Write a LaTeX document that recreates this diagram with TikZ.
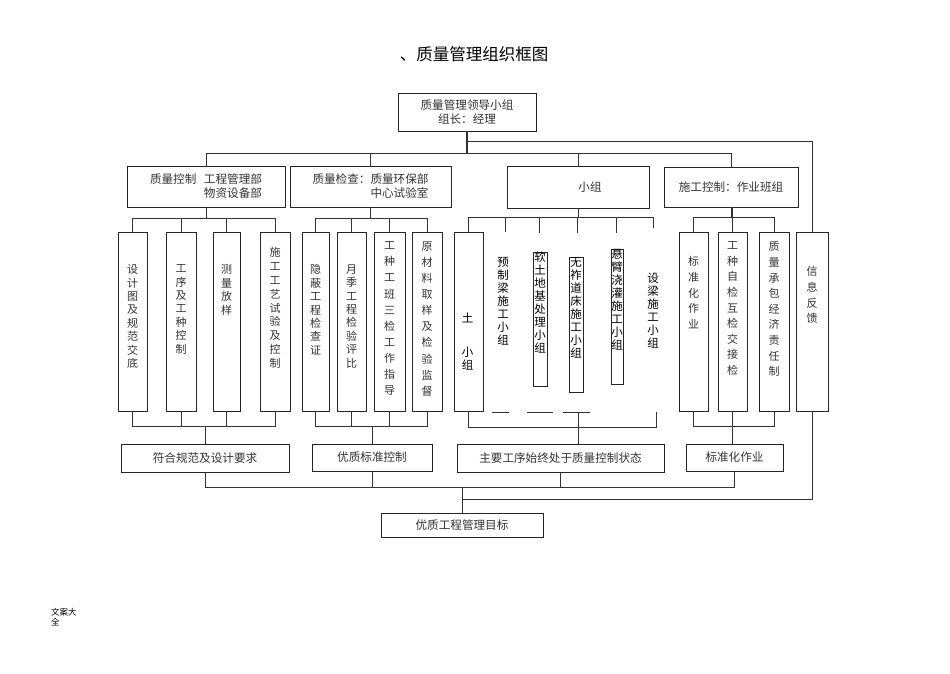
\documentclass[tikz,border=0pt]{standalone}
\usepackage{fontspec}
\newfontfamily\cjk{Noto Sans CJK SC}
\ExplSyntaxOn
\NewDocumentCommand\vtext{m}{
  \seq_clear:N \l_tmpa_seq
  \tl_map_inline:nn {#1} { \seq_put_right:Nn \l_tmpa_seq {##1} }
  \seq_use:Nn \l_tmpa_seq { \\ }
}
\ExplSyntaxOff
\begin{document}
\begin{tikzpicture}[x=1pt,y=-1pt,
  bx/.style={draw=black!85, line width=0.9pt, inner sep=0pt},
  ln/.style={draw=black!80, line width=0.8pt},
  htxt/.style={font=\cjk\fontsize{11.6}{14}\selectfont, text=black!80},
  vt/.style={font=\cjk\fontsize{11}{#1}\selectfont, align=center, inner sep=0pt, anchor=north, text=black!80},
  vt/.default=13.4,
  vs/.style={font=\cjk\fontsize{11.5}{#1}\selectfont, align=center, inner sep=0pt, anchor=north, text=black},
  vs/.default=13
]
\useasboundingbox[fill=white] (0,0) rectangle (950,673);

% title
\node[font=\cjk\fontsize{16.5}{20}\selectfont] (title) at (474,54) {、质量管理组织框图};

% top
\node[bx, htxt, align=center, minimum width=138, minimum height=38] (L) at (467,112) {质量管理领导小组\\组长：经理};

% second row
\node[bx, htxt, align=right, minimum width=158, minimum height=41] (A) at (206,186.5) {质量控制\hspace{0.65em}工程管理部\\物资设备部};
\node[bx, htxt, align=right, minimum width=161, minimum height=41] (B) at (370.5,186.5) {质量检查：质量环保部\\中心试验室};
\node[bx, minimum width=142, minimum height=42] (C) at (578,187) {};
\node[htxt] (Ct) at (590,187) {小组};
\node[bx, htxt, minimum width=134, minimum height=40] (D) at (731,187) {施工控制：作业班组};

% group A boxes
\node[bx, minimum width=29, minimum height=179] (a1) at (132.5,321.5) {};
\node[bx, minimum width=30, minimum height=179] (a2) at (181,321.5) {};
\node[bx, minimum width=27, minimum height=179] (a3) at (226.5,321.5) {};
\node[bx, minimum width=30, minimum height=179] (a4) at (275,321.5) {};
\node[vt] (a1t) at (132.5,264.5) {\vtext{设计图及规范交底}};
\node[vt] (a2t) at (181,264.5) {\vtext{工序及工种控制}};
\node[vt] (a3t) at (226.5,264.5) {\vtext{测量放样}};
\node[vt=13.8] (a4t) at (275,247.5) {\vtext{施工工艺试验及控制}};

% group B boxes
\node[bx, minimum width=27, minimum height=179] (b1) at (315.5,321.5) {};
\node[bx, minimum width=29, minimum height=179] (b2) at (351.5,321.5) {};
\node[bx, minimum width=31, minimum height=179] (b3) at (389.5,321.5) {};
\node[bx, minimum width=30, minimum height=179] (b4) at (427,321.5) {};
\node[vt] (b1t) at (315.5,264.5) {\vtext{隐蔽工程检查证}};
\node[vt] (b2t) at (351.5,264.5) {\vtext{月季工程检验评比}};
\node[vt=16.1] (b3t) at (389.5,241.5) {\vtext{工种工班三检工作指导}};
\node[vt=16.1] (b4t) at (427,241.5) {\vtext{原材料取样及检验监督}};

% group C
\node[bx, minimum width=29, minimum height=179] (c1) at (468.5,321.5) {};
\node[bx, minimum width=14, minimum height=134] (c3) at (540,319) {};
\node[bx, minimum width=14, minimum height=135] (c4) at (576,324.5) {};
\node[bx, minimum width=12, minimum height=135] (c5) at (617,316.5) {};
\node[vs=12.5] (c1t) at (467.5,312.5) {土\\[22pt]小\\组};
\node[vs] (c2t) at (503,257.5) {\vtext{预制梁施工小组}};
\node[vs] (c3t) at (540,251.5) {\vtext{软土地基处理小组}};
\node[vs] (c4t) at (576,257.5) {\vtext{无祚道床施工小组}};
\node[vs] (c5t) at (617,249.5) {\vtext{悬臂浇灌施工小组}};
\node[vs] (c6t) at (653,272.5) {\vtext{设梁施工小组}};

% group D
\node[bx, minimum width=29, minimum height=179] (d1) at (693.5,321.5) {};
\node[bx, minimum width=29, minimum height=179] (d2) at (732.5,321.5) {};
\node[bx, minimum width=30, minimum height=179] (d3) at (774,321.5) {};
\node[bx, minimum width=32, minimum height=179] (d4) at (812,321.5) {};
\node[vt=15.6] (d1t) at (693.5,256.5) {\vtext{标准化作业}};
\node[vt=15.6] (d2t) at (732.5,241.5) {\vtext{工种自检互检交接检}};
\node[vt=15.6] (d3t) at (774,241.5) {\vtext{质量承包经济责任制}};
\node[vt=15.6] (d4t) at (812,266.5) {\vtext{信息反馈}};

% result row
\node[bx, htxt, minimum width=168, minimum height=28] (R1) at (205,458) {符合规范及设计要求};
\node[bx, htxt, minimum width=120, minimum height=27] (R2) at (372,457.5) {优质标准控制};
\node[bx, htxt, minimum width=207, minimum height=28] (R3) at (560.5,458) {主要工序始终处于质量控制状态};
\node[bx, htxt, minimum width=97, minimum height=27] (R4) at (734.5,457.5) {标准化作业};

% goal
\node[bx, htxt, minimum width=162, minimum height=24] (G) at (462,525) {优质工程管理目标};

% footer
\node[font=\cjk\fontsize{8.5}{10.5}\selectfont, align=left, anchor=north west, inner sep=0pt] (ft) at (51,608) {文案大\\全};

% bus coordinates
\coordinate (t0) at (0,141);
\coordinate (t1) at (0,153);
\coordinate (bT) at (0,218);
\coordinate (bB) at (0,426);
\coordinate (bCB) at (0,427);
\coordinate (g1) at (0,487);
\coordinate (g0) at (0,499);
\coordinate (c2top) at (505,232);
\coordinate (c3top) at (539,233);
\coordinate (c4top) at (577,233);
\coordinate (c5top) at (616,233);
\coordinate (c6top) at (653,228);
\coordinate (cbr) at (656,412);
\coordinate (cbm) at (578,412);
\coordinate (s1a) at (492,412); \coordinate (s1b) at (509,412);
\coordinate (s2a) at (527,412); \coordinate (s2b) at (553,412);
\coordinate (s3a) at (563,412); \coordinate (s3b) at (590,412);

% top connectors
\draw[ln, line width=1.2pt] (L.south) -- (L.south |- t1);
\draw[ln] (A.north) -- (A.north |- t1) -| (D.north);
\draw[ln] (B.north) -- (B.north |- t1);
\draw[ln] (C.north) -- (C.north |- t1);
\draw[ln] (L.south |- t0) -| (d4.north);

% group A
\draw[ln] (A.south) -- (A.south |- bT);
\draw[ln] (a1.north) -- (a1.north |- bT) -| (a4.north);
\draw[ln] (a2.north) -- (a2.north |- bT);
\draw[ln] (a3.north) -- (a3.north |- bT);
\draw[ln] (a1.south) -- (a1.south |- bB) -| (a4.south);
\draw[ln] (a2.south) -- (a2.south |- bB);
\draw[ln] (a3.south) -- (a3.south |- bB);
\draw[ln] (R1.north) -- (R1.north |- bB);

% group B
\draw[ln] (B.south) -- (B.south |- bT);
\draw[ln] (b1.north) -- (b1.north |- bT) -| (b4.north);
\draw[ln] (b2.north) -- (b2.north |- bT);
\draw[ln] (b3.north) -- (b3.north |- bT);
\draw[ln] (b1.south) -- (b1.south |- bB) -| (b4.south);
\draw[ln] (b2.south) -- (b2.south |- bB);
\draw[ln] (b3.south) -- (b3.south |- bB);
\draw[ln] (R2.north) -- (R2.north |- bB);

% group C
\draw[ln] (C.south) -- (C.south |- 0,217);
\draw[ln] (c1.north) -- (c1.north |- 0,217) -| (c6top);
\draw[ln] (c2top) -- (c2top |- 0,217);
\draw[ln] (c3top) -- (c3top |- 0,217);
\draw[ln] (c4top) -- (c4top |- 0,217);
\draw[ln] (c5top) -- (c5top |- 0,217);
\draw[ln] (c1.south) -- (c1.south |- bCB) -| (cbr);
\draw[ln] (cbm) -- (cbm |- R3.north);
\draw[ln] (s1a) -- (s1b);
\draw[ln] (s2a) -- (s2b);
\draw[ln] (s3a) -- (s3b);

% group D
\draw[ln] (D.south) -- (D.south |- 0,217);
\draw[ln] (d1.north) -- (d1.north |- 0,217) -| (d3.north);
\draw[ln] (d2.north) -- (d2.north |- D.south);
\draw[ln] (d1.south) -- (d1.south |- bB) -| (d3.south);
\draw[ln] (d2.south) -- (d2.south |- R4.north);

% bottom
\draw[ln] (R1.south) -- (R1.south |- g1) -| (R4.south);
\draw[ln] (R2.south) -- (R2.south |- g1);
\draw[ln] (R3.south) -- (R3.south |- g1);
\draw[ln] (G.north) -- (G.north |- g1);
\draw[ln] (d4.south) |- (G.north |- g0);
\end{tikzpicture}
\end{document}
